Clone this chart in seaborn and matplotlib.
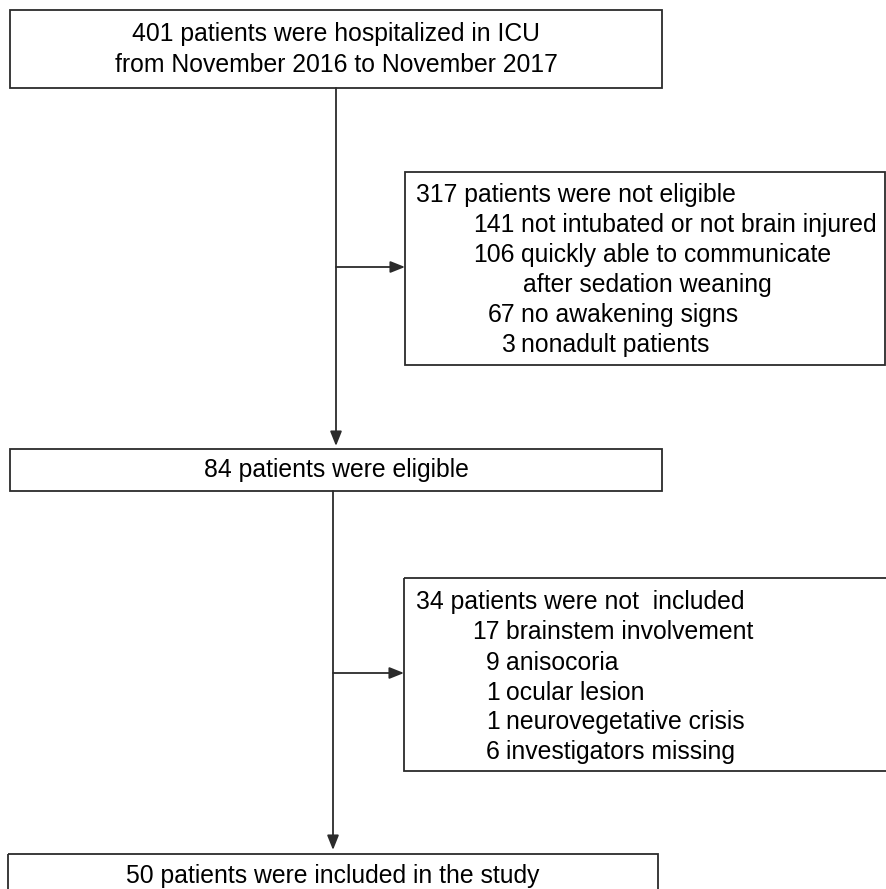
import matplotlib
matplotlib.use("Agg")
import matplotlib.pyplot as plt
from matplotlib.patches import Rectangle
import seaborn as sns

# ---- data ----
main_counts = [401, 84, 50]
main_labels = [
    ["{} patients were hospitalized in ICU", "from November 2016 to November 2017"],
    ["{} patients were eligible"],
    ["{} patients were included in the study"],
]
excl1_total = 317
excl1_title = "{} patients were not eligible"
excl1_counts = [141, 106, 67, 3]
excl1_reasons = ["not intubated or not brain injured",
                 "quickly able to communicate\nafter sedation weaning",
                 "no awakening signs", "nonadult patients"]
excl2_total = 34
excl2_title = "{} patients were not  included"
excl2_counts = [17, 9, 1, 1, 6]
excl2_reasons = ["brainstem involvement", "anisocoria", "ocular lesion",
                 "neurovegetative crisis", "investigators missing"]

sns.set_theme(style="white")
plt.rcParams["font.family"] = ["Liberation Sans", "DejaVu Sans"]
plt.rcParams["text.color"] = "black"

W, H = 886, 889
fig = plt.figure(figsize=(W / 100, H / 100), dpi=100)
ax = fig.add_axes([0, 0, 1, 1])
ax.set_xlim(0, W)
ax.set_ylim(H, 0)
ax.axis("off")

LC = "#2b2b2b"
LW = 1.3
FS = 17.8

def box(x0, y0, x1, y1):
    ax.add_patch(Rectangle((x0, y0), x1 - x0, y1 - y0, fill=False,
                           edgecolor=LC, linewidth=LW, clip_on=False))

def arrow(x0, y0, x1, y1):
    ax.annotate("", xy=(x1, y1), xytext=(x0, y0),
                arrowprops=dict(arrowstyle="-|>,head_length=0.55,head_width=0.22",
                                color=LC, lw=LW, shrinkA=0, shrinkB=0,
                                mutation_scale=16))

def txt(x, y, s, ha="left"):
    ax.text(x, y, s, ha=ha, va="baseline", fontsize=FS, color="black")

# main boxes
box(10, 10, 662, 88)
box(10, 449, 662, 491)
box(8, 854, 658, 900)

txt(336, 41, main_labels[0][0].format(main_counts[0]), "center")
txt(336, 72, main_labels[0][1], "center")
txt(336, 477, main_labels[1][0].format(main_counts[1]), "center")
txt(333, 883, main_labels[2][0].format(main_counts[2]), "center")

# exclusion box 1
box(405, 172, 885, 365)
txt(416, 202, excl1_title.format(excl1_total))
num_right1 = 515
y = 232
for c, r in zip(excl1_counts, excl1_reasons):
    parts = r.split("\n")
    txt(num_right1, y, str(c), "right")
    txt(num_right1 + 6, y, parts[0])
    y += 30
    for p in parts[1:]:
        txt(num_right1 + 8, y, p)
        y += 30

# exclusion box 2
box(404, 578, 895, 771)
txt(416, 609, excl2_title.format(excl2_total))
num_right2 = 500
ys2 = [639, 670, 700, 729, 759]
for c, r, yy in zip(excl2_counts, excl2_reasons, ys2):
    txt(num_right2, yy, str(c), "right")
    txt(num_right2 + 6, yy, r)

# connectors
arrow(336, 88, 336, 446)
arrow(336, 267, 405, 267)
arrow(333, 491, 333, 850)
arrow(333, 673, 404, 673)

fig.savefig("out.png", dpi=100, facecolor="white")
